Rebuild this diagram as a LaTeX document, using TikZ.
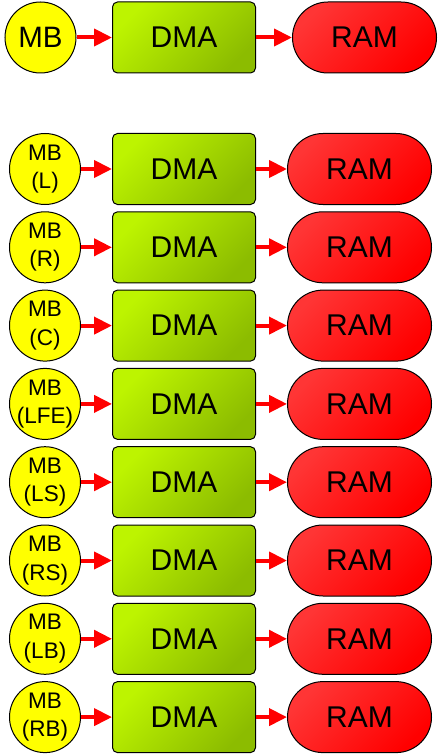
\documentclass[tikz,border=0pt]{standalone}
\usepackage{fontspec}
\setmainfont{Liberation Sans}
\usetikzlibrary{positioning, arrows.meta}
\definecolor{mbyellow}{HTML}{FFFF00}
\definecolor{dmalight}{HTML}{BDF400}
\definecolor{dmadark}{HTML}{8CBC00}
\definecolor{ramlight}{HTML}{FF3535}
\definecolor{ramdark}{HTML}{FF0000}
\tikzset{
x=1pt, y=1pt, % one unit is one pixel of the picture
node distance=78.3pt, % distance between the rows of channels
mbnode/.style={circle, draw=black, line width=1pt, fill=mbyellow, minimum size=71pt, inner sep=-8pt, align=center, font=\fontsize{22.5}{28.5}\selectfont},
dmanode/.style={rectangle, rounded corners=5pt, draw=black, line width=1pt, top color=dmalight, bottom color=dmadark, shading angle=45, minimum width=143pt, minimum height=71pt, font=\fontsize{30}{36}\selectfont},
ramnode/.style={rectangle, rounded corners=35.5pt, draw=black, line width=1pt, top color=ramlight, bottom color=ramdark, shading angle=45, minimum width=144pt, minimum height=71pt, font=\fontsize{30}{36}\selectfont},
link/.style={draw=red, line width=4pt, -{Triangle[length=18pt,width=17pt]}}, % red arrows between the blocks
}
\begin{document}
\begin{tikzpicture}
              \useasboundingbox (0,0) rectangle (437,-754);

              % single buffer
              \node[mbnode, font=\fontsize{29.5}{35}\selectfont] (mb) at (40.5,-37.5) {MB};
              \node[dmanode, right=35.5pt of mb] (dma) {DMA};
              \node[ramnode, right=36pt of dma] (ram) {RAM};

              % one buffer per channel
              \node[mbnode] (mbL) at (45,-169) {MB\\(L)};
              \node[mbnode, below of=mbL] (mbR) {MB\\(R)};
              \node[mbnode, below of=mbR] (mbC) {MB\\(C)};
              \node[mbnode, below of=mbC] (mbLFE) {MB\\(LFE)};
              \node[mbnode, below of=mbLFE] (mbLS) {MB\\(LS)};
              \node[mbnode, below of=mbLS] (mbRS) {MB\\(RS)};
              \node[mbnode, below of=mbRS] (mbLB) {MB\\(LB)};
              \node[mbnode, below of=mbLB] (mbRB) {MB\\(RB)};

              \node[dmanode, right=31pt of mbL] (dmaL) {DMA};
              \node[dmanode, right=31pt of mbR] (dmaR) {DMA};
              \node[dmanode, right=31pt of mbC] (dmaC) {DMA};
              \node[dmanode, right=31pt of mbLFE] (dmaLFE) {DMA};
              \node[dmanode, right=31pt of mbLS] (dmaLS) {DMA};
              \node[dmanode, right=31pt of mbRS] (dmaRS) {DMA};
              \node[dmanode, right=31pt of mbLB] (dmaLB) {DMA};
              \node[dmanode, right=31pt of mbRB] (dmaRB) {DMA};

              \node[ramnode, right=31pt of dmaL] (ramL) {RAM};
              \node[ramnode, right=31pt of dmaR] (ramR) {RAM};
              \node[ramnode, right=31pt of dmaC] (ramC) {RAM};
              \node[ramnode, right=31pt of dmaLFE] (ramLFE) {RAM};
              \node[ramnode, right=31pt of dmaLS] (ramLS) {RAM};
              \node[ramnode, right=31pt of dmaRS] (ramRS) {RAM};
              \node[ramnode, right=31pt of dmaLB] (ramLB) {RAM};
              \node[ramnode, right=31pt of dmaRB] (ramRB) {RAM};

              \draw[link] (mb) -- (dma);
              \draw[link] (dma) -- (ram);

              \draw[link] (mbL) -- (dmaL);
              \draw[link] (dmaL) -- (ramL);
              \draw[link] (mbR) -- (dmaR);
              \draw[link] (dmaR) -- (ramR);
              \draw[link] (mbC) -- (dmaC);
              \draw[link] (dmaC) -- (ramC);
              \draw[link] (mbLFE) -- (dmaLFE);
              \draw[link] (dmaLFE) -- (ramLFE);
              \draw[link] (mbLS) -- (dmaLS);
              \draw[link] (dmaLS) -- (ramLS);
              \draw[link] (mbRS) -- (dmaRS);
              \draw[link] (dmaRS) -- (ramRS);
              \draw[link] (mbLB) -- (dmaLB);
              \draw[link] (dmaLB) -- (ramLB);
              \draw[link] (mbRB) -- (dmaRB);
              \draw[link] (dmaRB) -- (ramRB);
\end{tikzpicture}
\end{document}
